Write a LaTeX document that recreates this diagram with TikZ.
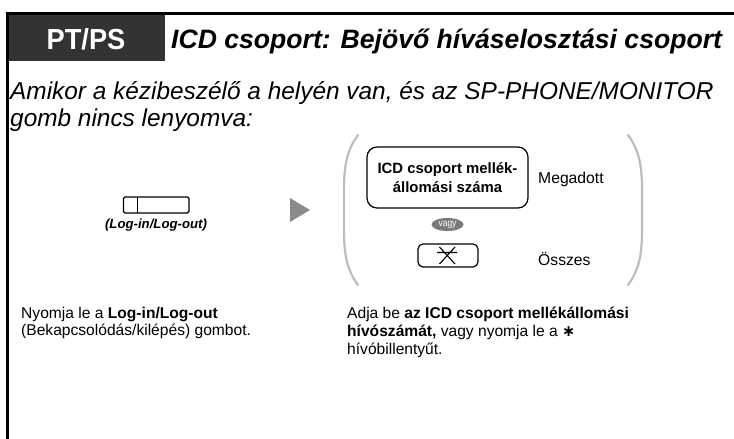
\documentclass[tikz,border=0pt]{standalone}
\usepackage{fontspec}
\setmainfont{Liberation Sans}
\newfontfamily\nf[FakeStretch=0.94]{Liberation Sans}
\newfontfamily\vf[FakeStretch=0.85]{Liberation Sans}
\newfontfamily\djv{DejaVu Sans}
\usetikzlibrary{shapes.geometric}
\definecolor{hdr}{HTML}{333333}
\definecolor{pargray}{HTML}{BDBDBD}
\definecolor{vagygray}{HTML}{7A7A7A}
\definecolor{arrgray}{HTML}{8A8A8A}
\begin{document}
\begin{tikzpicture}[x=1pt,y=-1pt,
  paren/.style={draw=pargray,line width=2.2pt,line cap=round},
  txt/.style={inner sep=0pt,anchor=base west,align=left}]
\useasboundingbox (0,0) rectangle (734,439);
% header
\fill[hdr] (6,13) rectangle (165,61);
\node[inner sep=0pt,text=white,font=\nf\fontsize{29}{29}\selectfont\bfseries] (pt) at (86,39) {PT/PS};
\node[txt,font=\fontsize{26.6}{26.6}\selectfont\bfseries\itshape] (title) at (171,48) {ICD csoport: Bejövő híváselosztási csoport};
\draw[line width=3pt] (5.5,13) -- (734,13);
\draw[line width=3pt] (7,12) -- (7,439);
% condition (base = last line)
\node[txt,font=\fontsize{24.4}{27}\selectfont\itshape] (cond) at (10,126) {Amikor a kézibeszélő a helyén van, és az SP-PHONE/MONITOR\\gomb nincs lenyomva:};
% login button
\draw[line width=1.2pt,rounded corners=1.5pt] (123.5,197) rectangle (189,213);
\draw[line width=1.2pt] (137.7,197) -- (137.7,213);
\node[inner sep=0pt,font=\fontsize{13.2}{13.2}\selectfont\bfseries\itshape] (loglbl) at (156,225) {(Log-in/Log-out)};
% arrow
\fill[arrgray] (290,198) -- (310,210) -- (290,222) -- cycle;
% parentheses
\draw[paren] (358,135) .. controls (347,150) and (344,165) .. (344,190) -- (344,230) .. controls (344,255) and (347,270) .. (358,285);
\draw[paren] (628,135) .. controls (639,150) and (642,165) .. (642,190) -- (642,230) .. controls (642,255) and (639,270) .. (628,285);
% ICD box
\draw[line width=1.2pt,rounded corners=10pt] (367,147) rectangle (528,208);
\node[inner sep=0pt,align=center,font=\fontsize{14.9}{19}\selectfont\bfseries] (icd) at (447.5,178) {ICD csoport mellék-\\állomási száma};
\node[txt,font=\fontsize{15.7}{15.7}\selectfont] (meg) at (538,183) {Megadott};
% vagy
\node[ellipse,fill=vagygray,minimum width=32pt,minimum height=13pt,inner sep=0pt,text=white,font=\vf\fontsize{10}{10}\selectfont] (vagy) at (447.5,224.5) {vagy};
% star key
\draw[line width=1.2pt,rounded corners=5pt] (418,244) rectangle (478,267);
\draw[line width=1.1pt] (437,252.5) -- (457,252.5) (439.5,247) -- (455,264) (455,247) -- (439.5,264);
\node[txt,font=\fontsize{15.7}{15.7}\selectfont] (oss) at (538,265) {Összes};
% descriptions (base = last line)
\node[txt,font=\fontsize{15.6}{17}\selectfont] (d1) at (21,335) {Nyomja le a \textbf{Log-in/Log-out}\\(Bekapcsolódás/kilépés) gombot.};
\node[txt,font=\fontsize{15.6}{18}\selectfont] (d2) at (347,354) {Adja be \textbf{az ICD csoport mellékállomási}\\\textbf{hívószámát,} vagy nyomja le a {\djv\bfseries ∗}\\hívóbillentyűt.};
\end{tikzpicture}
\end{document}
